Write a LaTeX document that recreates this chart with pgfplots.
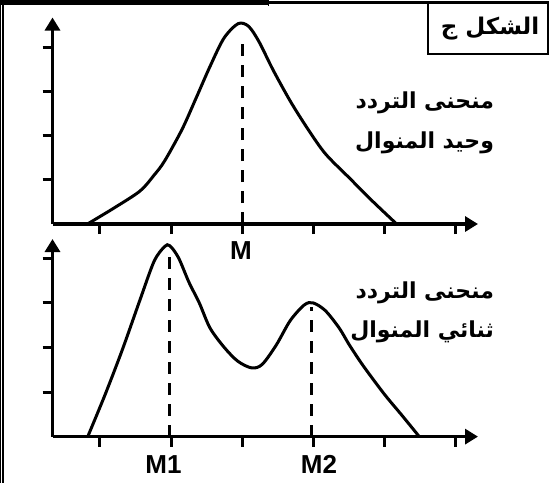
\documentclass[border=0pt]{standalone}
\usepackage{fontspec}
\setmainfont{Liberation Sans}
\newfontfamily\arabicfont[Script=Arabic,BoldFont={DejaVu Sans Bold}]{DejaVu Sans}
\TeXXeTstate=1
\usepackage{pgfplots}
\pgfplotsset{compat=1.18}
\usetikzlibrary{arrows.meta}
\pgfplotsset{panel/.style={
  scale only axis, anchor=south west, clip=false,
  axis lines=left,
  axis line style={black,line width=1.6pt,-{Triangle[width=7.5pt,length=6.5pt]}},
  xmin=0.333,xmax=6.31,ymin=0,
  xtick={1,...,6}, ytick={1,...,4},
  xticklabels={}, yticklabels={},
  tick align=outside, major tick length=5pt,
  tick style={black,line width=1.5pt},
  width=212.75pt,
}}
\begin{document}
\begin{tikzpicture}
\useasboundingbox (0,0) rectangle (274.5pt,-241.5pt);
\begin{axis}[panel, at={(26.25pt,-112pt)}, height=103.25pt, ymax=4.69]
\addplot[black,line width=1.5pt,smooth] coordinates {
(0.824,0) (1.194,0.36) (1.563,0.75) (1.76,1.11) (1.907,1.43) (2.153,2.15) (2.350,2.86) (2.546,3.58)
(2.741,4.22) (2.940,4.55) (3.087,4.49) (3.234,4.14) (3.431,3.50) (3.677,2.78)
(3.923,2.15) (4.169,1.59) (4.513,1.03) (4.808,0.55) (5.167,0)};
\addplot[black,line width=1.3pt,dash pattern=on 6pt off 4.5pt] coordinates {(3,0) (3,4.25)};
\end{axis}
\begin{axis}[panel, at={(26.25pt,-218.3pt)}, height=98.8pt, ymax=4.43]
\addplot[black,line width=1.5pt,smooth] coordinates {
(0.828,0) (1.074,0.95) (1.319,1.97) (1.563,3.07) (1.760,3.93) (1.907,4.26)
(1.981,4.28) (2.103,4.01) (2.25,3.46) (2.397,2.99) (2.544,2.44) (2.740,2.01)
(2.936,1.69) (3.132,1.54) (3.279,1.62) (3.475,2.05) (3.672,2.60) (3.868,2.95)
(3.99,3.00) (4.162,2.83) (4.358,2.44) (4.505,2.05) (4.701,1.58) (4.995,0.95)
(5.240,0.48) (5.485,0)};
\addplot[black,line width=1.3pt,dash pattern=on 6pt off 4.5pt] coordinates {(1.98,0) (1.98,4.16)};
\addplot[black,line width=1.3pt,dash pattern=on 6pt off 4.5pt] coordinates {(3.97,0) (3.97,2.90)};
\end{axis}
\begin{scope}[x=0.5pt,y=-0.5pt]
% frame
\fill[black] (0,0) rectangle (268,4.5);
\fill[black] (268,1) rectangle (549,4);
\draw[black,line width=0.5pt] (268,0) -- (268,6);
\fill[black] (0,0) rectangle (1.2,483);
\fill[black] (2.4,4) rectangle (4.2,483);
\draw[black,line width=0.75pt] (428,4) -- (428,54) -- (548,54) -- (548,4);
\node[font=\arabicfont\bfseries\fontsize{11.5}{13}\selectfont] at (490,29) {\beginR الشكل ج\endR};
% labels
\node[font=\bfseries\fontsize{13}{15}\selectfont] at (241,251) {M};
\node[font=\bfseries\fontsize{13}{15}\selectfont] at (163.5,464.5) {M1};
\node[font=\bfseries\fontsize{13}{15}\selectfont] at (319,464.5) {M2};
\node[font=\arabicfont\bfseries\fontsize{11}{13}\selectfont,anchor=east] at (501,103) {\beginR منحنى التردد\endR};
\node[font=\arabicfont\bfseries\fontsize{11}{13}\selectfont,anchor=east] at (501,143) {\beginR وحيد المنوال\endR};
\node[font=\arabicfont\bfseries\fontsize{11}{13}\selectfont,anchor=east] at (501,293) {\beginR منحنى التردد\endR};
\node[font=\arabicfont\bfseries\fontsize{11}{13}\selectfont,anchor=east] at (501,332) {\beginR ثنائي المنوال\endR};
\end{scope}
\end{tikzpicture}
\end{document}
